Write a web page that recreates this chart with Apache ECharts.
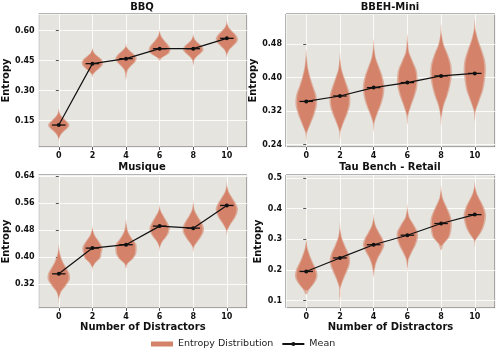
<!DOCTYPE html>
<html>
<head>
<meta charset="utf-8">
<script src="https://cdn.jsdelivr.net/npm/echarts@6/dist/echarts.min.js"></script>
<style>
html, body { margin: 0; padding: 0; background: #fff; }
#chart { width: 498px; height: 352px; }
</style>
</head>
<body>
<div id="chart"></div>
<script>
// number of distractors
var positions = [0, 2, 4, 6, 8, 10];
var panelTitles = ['BBQ', 'BBEH-Mini', 'Musique', 'Tau Bench - Retail'];

// y tick labels of each panel
var bbqTicks = [0.15, 0.30, 0.45, 0.60];
var bbehTicks = [0.24, 0.32, 0.40, 0.48];
var musiqueTicks = [0.32, 0.40, 0.48, 0.56, 0.64];
var tauTicks = [0.1, 0.2, 0.3, 0.4, 0.5];

// mean entropy
var bbqMean = [0.127, 0.435, 0.460, 0.510, 0.510, 0.562];
var bbehMean = [0.343, 0.356, 0.376, 0.388, 0.404, 0.410];
var musiqueMean = [0.351, 0.427, 0.437, 0.492, 0.486, 0.553];
var tauMean = [0.195, 0.239, 0.282, 0.313, 0.351, 0.380];

// violin extent (lowest / highest entropy)
var bbqLow = [0.045, 0.367, 0.350, 0.450, 0.420, 0.467];
var bbqHigh = [0.212, 0.517, 0.537, 0.608, 0.587, 0.654];
var bbehLow = [0.246, 0.252, 0.270, 0.288, 0.284, 0.296];
var bbehHigh = [0.468, 0.462, 0.492, 0.504, 0.528, 0.540];
var musiqueLow = [0.264, 0.358, 0.367, 0.417, 0.415, 0.464];
var musiqueHigh = [0.440, 0.494, 0.512, 0.556, 0.571, 0.624];
var tauLow = [0.120, 0.090, 0.177, 0.190, 0.264, 0.275];
var tauHigh = [0.308, 0.356, 0.384, 0.416, 0.476, 0.489];

// violin half-widths (x units), read bottom -> top at 9 levels
var bbqWidths = [
  [0.03, 0.12, 0.28, 0.50, 0.58, 0.45, 0.25, 0.10, 0.03],
  [0.05, 0.20, 0.40, 0.55, 0.58, 0.50, 0.30, 0.12, 0.03],
  [0.02, 0.05, 0.12, 0.30, 0.50, 0.58, 0.45, 0.22, 0.04],
  [0.15, 0.45, 0.58, 0.58, 0.48, 0.32, 0.18, 0.08, 0.02],
  [0.02, 0.06, 0.20, 0.42, 0.56, 0.50, 0.30, 0.12, 0.03],
  [0.05, 0.15, 0.35, 0.55, 0.60, 0.50, 0.30, 0.12, 0.03]
];
var bbehWidths = [
  [0.05, 0.25, 0.45, 0.58, 0.55, 0.38, 0.22, 0.10, 0.04],
  [0.05, 0.22, 0.42, 0.55, 0.55, 0.42, 0.25, 0.10, 0.03],
  [0.05, 0.22, 0.42, 0.55, 0.58, 0.48, 0.30, 0.12, 0.04],
  [0.05, 0.20, 0.38, 0.52, 0.56, 0.50, 0.30, 0.10, 0.04],
  [0.04, 0.15, 0.35, 0.50, 0.58, 0.55, 0.38, 0.15, 0.04],
  [0.06, 0.25, 0.45, 0.55, 0.60, 0.55, 0.38, 0.18, 0.05]
];
var musiqueWidths = [
  [0.03, 0.15, 0.40, 0.60, 0.58, 0.40, 0.22, 0.10, 0.03],
  [0.03, 0.20, 0.45, 0.50, 0.55, 0.45, 0.28, 0.12, 0.03],
  [0.10, 0.40, 0.55, 0.58, 0.55, 0.35, 0.18, 0.08, 0.03],
  [0.03, 0.15, 0.35, 0.50, 0.55, 0.45, 0.30, 0.15, 0.04],
  [0.05, 0.25, 0.45, 0.58, 0.55, 0.40, 0.22, 0.08, 0.02],
  [0.04, 0.20, 0.40, 0.55, 0.60, 0.48, 0.30, 0.12, 0.03]
];
var tauWidths = [
  [0.20, 0.45, 0.60, 0.58, 0.45, 0.30, 0.18, 0.08, 0.02],
  [0.02, 0.05, 0.20, 0.40, 0.55, 0.50, 0.30, 0.12, 0.03],
  [0.05, 0.12, 0.25, 0.45, 0.58, 0.50, 0.30, 0.12, 0.03],
  [0.02, 0.08, 0.25, 0.45, 0.57, 0.55, 0.35, 0.12, 0.03],
  [0.15, 0.45, 0.55, 0.58, 0.55, 0.42, 0.25, 0.10, 0.03],
  [0.05, 0.30, 0.48, 0.58, 0.60, 0.50, 0.32, 0.14, 0.04]
];

var panels = [
  {ticks: bbqTicks, mean: bbqMean, low: bbqLow, high: bbqHigh, widths: bbqWidths, yMin: 0.017, yMax: 0.684, dec: 2},
  {ticks: bbehTicks, mean: bbehMean, low: bbehLow, high: bbehHigh, widths: bbehWidths, yMin: 0.234, yMax: 0.552, dec: 2},
  {ticks: musiqueTicks, mean: musiqueMean, low: musiqueLow, high: musiqueHigh, widths: musiqueWidths, yMin: 0.250, yMax: 0.643, dec: 2},
  {ticks: tauTicks, mean: tauMean, low: tauLow, high: tauHigh, widths: tauWidths, yMin: 0.076, yMax: 0.509, dec: 1}
];

var gridPos = [[38, 14], [286, 14], [38, 175], [286, 175]];
var FONT = 'DejaVu Sans';
var violinColor = '#d4826a';
var widthScale = 1.1;

function violinRender(p) {
  return function (params, api) {
    var i = params.dataIndex;
    var x = api.value(0);
    var lo = p.low[i], hi = p.high[i], w = p.widths[i];
    function outline(scale, cut, trim) {
      var a = lo + (hi - lo) * trim, b = hi - (hi - lo) * trim;
      var n = w.length, right = [], left = [];
      for (var k = 0; k < n; k++) {
        var y = lo + (hi - lo) * (k + 1) / (n + 1);
        var hw = Math.max(w[k] * scale - cut, 0.01);
        right.push(api.coord([x + hw, y]));
        left.unshift(api.coord([x - hw, y]));
      }
      return [api.coord([x, a])].concat(right, [api.coord([x, b])], left);
    }
    return {
      type: 'group',
      children: [
        {type: 'polygon', shape: {points: outline(widthScale, 0, 0), smooth: 0.3}, style: {fill: 'rgba(212,120,90,0.5)'}},
        {type: 'polygon', shape: {points: outline(widthScale * 0.92, 0.04, 0.07), smooth: 0.3}, style: {fill: violinColor}}
      ]
    };
  };
}

function capRender(params, api) {
  var x = api.value(0), m = api.value(1);
  var a = api.coord([x - 0.4, m]), b = api.coord([x + 0.4, m]);
  return {type: 'line', shape: {x1: a[0], y1: a[1], x2: b[0], y2: b[1]}, style: {stroke: '#111', lineWidth: 1.3}};
}

var grids = [], xAxes = [], yAxes = [], series = [], titles = [];
panels.forEach(function (p, idx) {
  var bottomRow = idx >= 2;
  grids.push({left: gridPos[idx][0], top: gridPos[idx][1], width: 209, height: 133, show: true,
    backgroundColor: '#e5e4df', borderColor: '#666', borderWidth: 1});
  titles.push({text: panelTitles[idx], left: gridPos[idx][0] + 104, top: bottomRow ? 162 : 2, padding: 0, textAlign: 'center',
    textStyle: {fontFamily: FONT, fontWeight: 'bold', fontSize: 10, color: '#111'}});
  xAxes.push({
    type: 'value', gridIndex: idx, min: -1.2, max: 11.2,
    name: bottomRow ? 'Number of Distractors' : '', nameLocation: 'middle', nameGap: 14,
    nameTextStyle: {fontFamily: FONT, fontWeight: 'bold', fontSize: 10, color: '#111'},
    axisLine: {show: false},
    axisTick: {show: true, length: 3, lineStyle: {color: '#555'}},
    axisLabel: {showMinLabel: false, showMaxLabel: false, margin: 5, fontFamily: FONT, fontWeight: 'bold', fontSize: 8, color: '#111',
      formatter: function (v) { return positions.indexOf(v) >= 0 ? String(v) : ''; }},
    splitLine: {show: true, lineStyle: {color: '#fff', width: 1, opacity: 0.85}}
  });
  var step = +(p.ticks[1] - p.ticks[0]).toFixed(4);
  yAxes.push({
    type: 'value', gridIndex: idx, min: p.yMin, max: p.yMax, minInterval: step, maxInterval: step,
    name: 'Entropy', nameLocation: 'middle', nameGap: 23,
    nameTextStyle: {fontFamily: FONT, fontWeight: 'bold', fontSize: 10, color: '#111'},
    axisLine: {show: false},
    axisTick: {show: true, length: 3, lineStyle: {color: '#555'}},
    axisLabel: {showMinLabel: false, showMaxLabel: false, margin: 4, fontFamily: FONT, fontWeight: 'bold', fontSize: 8, color: '#111',
      formatter: function (v) {
        for (var t = 0; t < p.ticks.length; t++) { if (Math.abs(p.ticks[t] - v) < 1e-6) return v.toFixed(p.dec); }
        return '';
      }},
    splitLine: {show: true, lineStyle: {color: '#fff', width: 1, opacity: 0.85}}
  });
  var pts = positions.map(function (x, i) { return [x, p.mean[i]]; });
  series.push({
    name: 'Entropy Distribution', type: 'custom', xAxisIndex: idx, yAxisIndex: idx,
    itemStyle: {color: violinColor}, renderItem: violinRender(p), data: pts, z: 2, silent: true
  });
  series.push({
    name: 'Mean', type: 'line', xAxisIndex: idx, yAxisIndex: idx, data: pts, z: 4,
    symbol: 'circle', symbolSize: 4, itemStyle: {color: '#111'}, lineStyle: {color: '#111', width: 1.2}
  });
  series.push({
    name: 'cap', type: 'custom', xAxisIndex: idx, yAxisIndex: idx, renderItem: capRender, data: pts, z: 3, silent: true
  });
});

var chart = echarts.init(document.getElementById('chart'), null, {renderer: 'canvas'});
chart.setOption({
  animation: false,
  backgroundColor: '#fff',
  title: titles,
  grid: grids,
  xAxis: xAxes,
  yAxis: yAxes,
  legend: {
    data: [{name: 'Entropy Distribution', icon: 'rect'}, {name: 'Mean'}],
    left: 146, top: 334, itemWidth: 22, itemHeight: 5, itemGap: 8,
    textStyle: {fontFamily: FONT, fontSize: 9.5, color: '#222'}
  },
  series: series
});
</script>
</body>
</html>
